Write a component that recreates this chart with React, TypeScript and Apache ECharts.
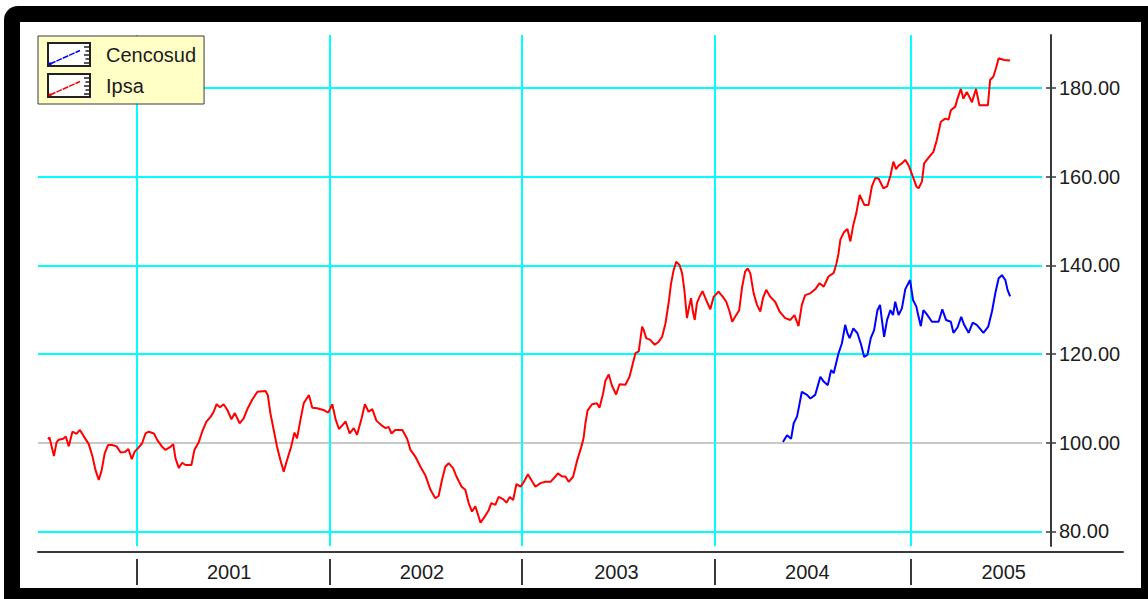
import { useEffect, useRef } from "react";
import * as echarts from "echarts";

// ---- data (x = weeks counted from the first week of 2001) ----
const YEARS = ["2001", "2002", "2003", "2004", "2005"];
const YEAR_START_WEEKS = [0, 52, 104, 156, 209];
const YEAR_LABEL_WEEKS = [25, 77, 129.5, 181, 234];
const Y_TICKS = [80, 100, 120, 140, 160, 180];
const Y_BASE = 100;

const CENCOSUD: [number, number][] = [
  [174.4, 100.2], [175.5, 101.7], [176.6, 100.9], [177.3, 104.4], [178.2, 105.9], [178.9, 108.9],
  [179.5, 111.5], [180.9, 110.8], [181.8, 110.0], [183.1, 110.8], [184.5, 114.9], [185.4, 113.8],
  [186.5, 113.0], [187.4, 116.4], [188.1, 115.7], [189.4, 120.2], [190.3, 122.4], [191.2, 126.6],
  [191.8, 124.7], [192.4, 123.6], [193.4, 125.8], [194.5, 124.7], [195.5, 122.1], [196.3, 119.4],
  [197.2, 119.8], [198.1, 123.6], [199.0, 125.4], [199.9, 129.9], [200.6, 131.1], [201.1, 127.7],
  [201.7, 123.9], [202.5, 127.7], [203.4, 129.9], [204.1, 128.8], [204.7, 131.8], [205.6, 128.8],
  [206.5, 130.3], [207.4, 134.6], [208.0, 135.6], [208.7, 136.7], [209.5, 132.2], [210.4, 130.7],
  [211.0, 128.4], [211.6, 126.3], [212.3, 129.9], [213.2, 129.0], [214.6, 127.3], [216.4, 127.3],
  [217.4, 130.1], [218.4, 127.7], [219.7, 127.3], [220.4, 124.8], [221.5, 126.0], [222.5, 128.4],
  [223.3, 126.6], [224.5, 124.8], [225.6, 127.1], [226.7, 126.6], [228.5, 124.8], [229.8, 126.2],
  [230.8, 129.6], [231.7, 133.7], [232.6, 137.1], [233.5, 137.8], [234.4, 136.7], [235.0, 134.5],
  [235.7, 133.0],
];

const IPSA: [number, number][] = [
  [-23.9, 100.8], [-23.5, 101.2], [-22.3, 97.0], [-21.6, 100.1], [-21.0, 100.7], [-19.8, 100.9],
  [-19.1, 101.4], [-18.3, 99.2], [-17.3, 102.5], [-16.2, 102.0], [-15.3, 102.9], [-14.2, 101.4],
  [-12.9, 99.7], [-11.9, 96.9], [-11.1, 93.9], [-10.2, 91.6], [-9.4, 93.9], [-8.6, 97.6],
  [-7.7, 99.5], [-6.6, 99.5], [-5.4, 99.2], [-4.3, 97.8], [-3.2, 97.9], [-2.2, 98.6],
  [-1.3, 96.3], [-0.5, 98.0], [0.4, 98.8], [1.5, 99.9], [2.4, 102.1], [3.3, 102.5],
  [4.7, 102.1], [5.6, 100.6], [6.9, 99.1], [7.8, 98.4], [9.0, 99.0], [9.9, 99.7],
  [10.5, 96.5], [11.4, 94.3], [12.3, 95.5], [13.2, 95.0], [14.8, 95.0], [15.6, 98.4],
  [16.8, 100.2], [17.7, 102.5], [18.8, 104.7], [20.0, 105.9], [20.8, 107.0], [21.6, 108.7],
  [22.5, 108.0], [23.5, 108.7], [24.5, 107.4], [25.6, 105.3], [26.5, 106.7], [27.8, 104.4],
  [28.9, 105.5], [30.0, 107.8], [31.2, 109.7], [32.6, 111.5], [34.8, 111.7], [35.4, 110.8],
  [36.1, 106.7], [37.0, 102.9], [37.9, 99.1], [38.8, 96.1], [39.7, 93.5], [40.6, 96.1],
  [41.7, 99.1], [42.6, 102.3], [43.3, 101.0], [44.2, 105.1], [45.1, 108.9], [46.5, 110.8],
  [47.4, 107.9], [48.7, 107.8], [50.4, 107.4], [51.7, 106.8], [52.8, 108.7], [53.7, 105.3],
  [54.6, 103.1], [56.4, 104.8], [57.5, 102.1], [58.6, 103.3], [59.5, 101.8], [60.7, 105.5],
  [61.6, 108.7], [62.6, 107.0], [63.6, 107.6], [64.7, 105.0], [66.3, 103.8], [67.2, 103.3],
  [68.0, 103.6], [68.8, 102.1], [69.8, 102.9], [71.7, 102.9], [73.0, 100.9], [73.9, 98.4],
  [75.2, 96.9], [76.6, 94.6], [77.9, 92.7], [79.3, 89.4], [80.6, 87.5], [81.5, 88.0],
  [82.4, 91.6], [83.3, 94.6], [84.2, 95.4], [85.4, 94.3], [86.3, 92.4], [87.7, 90.1],
  [88.7, 89.4], [89.6, 86.4], [90.5, 84.5], [91.4, 85.7], [92.8, 82.0], [93.9, 83.3],
  [95.0, 84.8], [95.7, 86.4], [96.8, 86.0], [97.7, 87.8], [98.9, 87.3], [99.8, 86.5],
  [100.7, 87.8], [101.6, 87.1], [102.5, 90.7], [103.6, 90.1], [104.5, 91.2], [105.6, 92.9],
  [106.5, 91.6], [107.6, 90.1], [109.0, 90.9], [110.3, 91.2], [111.7, 91.2], [113.0, 92.4],
  [113.7, 93.1], [114.8, 92.4], [115.7, 92.4], [116.6, 91.2], [117.8, 92.4], [118.9, 96.1],
  [119.9, 98.8], [120.6, 101.0], [121.1, 104.4], [121.7, 107.3], [122.9, 108.7], [124.2, 108.9],
  [124.9, 107.9], [125.9, 111.2], [126.5, 114.0], [127.4, 115.4], [128.3, 112.8], [129.4, 110.9],
  [130.3, 113.2], [131.9, 113.1], [133.0, 114.9], [133.9, 117.9], [134.6, 120.2], [135.5, 120.6],
  [136.4, 126.2], [136.8, 125.5], [137.5, 123.6], [138.6, 123.2], [139.8, 122.1], [140.9, 122.8],
  [141.8, 123.9], [142.7, 126.9], [143.6, 131.8], [144.2, 135.9], [144.9, 138.9], [145.6, 140.8],
  [146.5, 140.1], [147.2, 138.2], [147.8, 134.5], [148.5, 128.1], [149.1, 130.7], [149.6, 132.6],
  [150.1, 129.6], [150.6, 127.7], [151.2, 131.5], [151.9, 132.9], [152.7, 134.2], [153.9, 131.8],
  [154.8, 130.1], [155.7, 132.9], [157.0, 134.1], [158.2, 132.9], [159.1, 131.8], [160.0, 129.6],
  [160.7, 127.3], [161.5, 128.4], [162.6, 129.9], [163.4, 135.2], [164.2, 138.6], [164.9, 139.3],
  [165.6, 138.2], [166.5, 133.7], [167.4, 131.1], [168.3, 129.6], [169.0, 132.6], [169.9, 134.5],
  [171.0, 132.9], [172.3, 131.8], [173.5, 129.6], [175.0, 128.1], [176.4, 127.7], [177.5, 128.8],
  [178.6, 126.3], [179.5, 131.1], [180.4, 133.3], [181.8, 133.7], [183.1, 134.6], [184.3, 136.0],
  [185.4, 135.2], [186.7, 137.5], [188.1, 138.3], [188.8, 140.3], [189.4, 142.7], [189.9, 145.8],
  [190.8, 147.4], [191.8, 148.2], [192.6, 145.4], [193.3, 148.8], [194.2, 151.8], [195.1, 155.9],
  [196.4, 153.6], [197.5, 153.6], [198.4, 157.8], [199.3, 159.7], [200.2, 159.6], [201.5, 157.4],
  [202.5, 157.8], [203.4, 160.2], [204.2, 163.4], [204.9, 161.7], [205.6, 162.5], [206.5, 163.0],
  [207.4, 163.8], [208.3, 162.6], [209.2, 160.6], [210.4, 157.8], [211.0, 157.4], [211.9, 158.9],
  [212.5, 163.0], [213.7, 164.3], [215.0, 165.6], [215.9, 168.2], [217.0, 172.4], [218.2, 173.1],
  [219.1, 172.9], [219.7, 175.0], [220.9, 175.8], [221.5, 177.6], [222.4, 179.8], [223.1, 177.6],
  [224.0, 179.1], [224.7, 178.0], [225.4, 176.8], [226.5, 179.8], [227.4, 176.1], [228.5, 176.1],
  [229.7, 176.1], [230.3, 181.8], [231.2, 182.6], [231.9, 184.5], [232.6, 186.7], [234.1, 186.3],
  [235.7, 186.2],
];

// ---- axis extents ----
const X_MIN = -26.6;
const X_PLOT_MAX = 244.3;
const X_BAND_MAX = 266.2;
const Y_MIN = 76.73;
const Y_MAX = 191.95;

const FONT = '"Liberation Sans", Arial, Helvetica, sans-serif';
const TEXT_COLOR = "#1c1c1c";
const AXIS_COLOR = "#3a3a3a";
const CYAN = "#00FFFF";

function legendIcon(color: string): string {
  const svg =
    `<svg xmlns="http://www.w3.org/2000/svg" width="54" height="25" viewBox="0 0 54 25">` +
    `<rect x="1" y="1" width="42" height="23" fill="#ffffff" stroke="#222222" stroke-width="2"/>` +
    `<line x1="3" y1="22" x2="33" y2="8.5" stroke="${color}" stroke-width="1.5" stroke-dasharray="6 1"/>` +
    `<rect x="2" y="20.5" width="2.5" height="2.5" fill="${color}"/>` +
    `<path d="M37 5H42M38.5 9H42M37 13H42M38.5 17H42M37 21H42" stroke="#222222" stroke-width="1.3" fill="none"/>` +
    `</svg>`;
  return "image://data:image/svg+xml;charset=utf-8," + encodeURIComponent(svg);
}

export default function App() {
  const ref = useRef<HTMLDivElement>(null);

  useEffect(() => {
    if (!ref.current) return;
    const chart = echarts.init(ref.current, undefined, { renderer: "svg" });

    const option: any = {
      animation: false,
      backgroundColor: "transparent",
      textStyle: { fontFamily: FONT },
      grid: [
        { left: 38, top: 35, width: 1004, height: 511 },
        { left: 38, top: 552, width: 1085, height: 33 },
      ],
      legend: {
        left: 38,
        top: 36,
        orient: "vertical",
        itemWidth: 54,
        itemHeight: 25,
        itemGap: 6,
        padding: [6, 8, 6, 9],
        backgroundColor: "#FFFFC6",
        borderColor: AXIS_COLOR,
        borderWidth: 1,
        selectedMode: false,
        textStyle: { fontSize: 20, color: TEXT_COLOR, fontFamily: FONT },
        data: [
          { name: "Cencosud", icon: legendIcon("#0000FF") },
          { name: "Ipsa", icon: legendIcon("#FF0000") },
        ],
      },
      xAxis: [
        {
          gridIndex: 0,
          type: "value",
          min: X_MIN,
          max: X_PLOT_MAX,
          axisLine: { show: false, onZero: false },
          axisTick: { show: false, customValues: YEAR_START_WEEKS },
          axisLabel: { show: false },
          splitLine: { show: true, lineStyle: { color: CYAN, width: 2 } },
        },
        {
          gridIndex: 1,
          type: "value",
          position: "top",
          min: X_MIN,
          max: X_BAND_MAX,
          axisLine: { show: true, onZero: false, lineStyle: { color: AXIS_COLOR, width: 2 } },
          axisTick: { show: false },
          axisLabel: {
            show: true,
            inside: true,
            margin: 20,
            verticalAlign: "middle",
            customValues: YEAR_LABEL_WEEKS,
            formatter: (v: number) => {
              const i = YEAR_LABEL_WEEKS.indexOf(v);
              return i >= 0 ? YEARS[i] : "";
            },
            fontSize: 20,
            color: TEXT_COLOR,
            fontFamily: FONT,
          },
          splitLine: { show: false },
        },
        {
          gridIndex: 1,
          type: "value",
          position: "bottom",
          min: X_MIN,
          max: X_BAND_MAX,
          axisLine: { show: false, onZero: false },
          axisTick: {
            show: true,
            inside: true,
            length: 26,
            customValues: YEAR_START_WEEKS,
            lineStyle: { color: AXIS_COLOR, width: 2 },
          },
          axisLabel: { show: false },
          splitLine: { show: false },
        },
      ],
      yAxis: [
        {
          gridIndex: 0,
          type: "value",
          position: "right",
          offset: 9,
          min: Y_MIN,
          max: Y_MAX,
          axisLine: { show: true, onZero: false, lineStyle: { color: AXIS_COLOR, width: 2 } },
          axisTick: { show: true, length: 5, customValues: Y_TICKS, lineStyle: { color: AXIS_COLOR, width: 1.5 } },
          axisLabel: {
            show: true,
            customValues: Y_TICKS,
            formatter: (v: number) => v.toFixed(2),
            fontSize: 20,
            color: TEXT_COLOR,
            fontFamily: FONT,
            margin: 8,
          },
          splitLine: { show: false },
        },
        {
          gridIndex: 0,
          type: "value",
          position: "right",
          offset: 9,
          min: Y_MIN,
          max: Y_MAX,
          axisLine: { show: false, onZero: false },
          axisTick: { show: true, inside: true, length: 5, customValues: Y_TICKS, lineStyle: { color: AXIS_COLOR, width: 1.5 } },
          axisLabel: { show: false },
          splitLine: { show: false },
        },
        {
          gridIndex: 0,
          type: "value",
          position: "left",
          min: Y_MIN,
          max: Y_MAX,
          axisLine: { show: false, onZero: false },
          axisTick: { show: false, customValues: [Y_BASE] },
          axisLabel: { show: false },
          splitLine: { show: true, lineStyle: { color: "#C8C8C8", width: 2 } },
        },
        {
          gridIndex: 0,
          type: "value",
          position: "left",
          min: Y_MIN,
          max: Y_MAX,
          axisLine: { show: false, onZero: false },
          axisTick: { show: false, customValues: Y_TICKS.filter((v) => v !== Y_BASE) },
          axisLabel: { show: false },
          splitLine: { show: true, lineStyle: { color: CYAN, width: 2 } },
        },
        {
          gridIndex: 1,
          type: "value",
          min: 0,
          max: 1,
          show: false,
          axisLine: { show: false, onZero: false },
        },
      ],
      series: [
        {
          name: "Cencosud",
          type: "line",
          xAxisIndex: 0,
          yAxisIndex: 0,
          data: CENCOSUD,
          showSymbol: false,
          symbol: "none",
          silent: true,
          z: 5,
          lineStyle: { color: "#0000FF", width: 2 },
          itemStyle: { color: "#0000FF" },
        },
        {
          name: "Ipsa",
          type: "line",
          xAxisIndex: 0,
          yAxisIndex: 0,
          data: IPSA,
          showSymbol: false,
          symbol: "none",
          silent: true,
          z: 5,
          lineStyle: { color: "#FF0000", width: 2 },
          itemStyle: { color: "#FF0000" },
        },
      ],
    };

    chart.setOption(option);
    return () => chart.dispose();
  }, []);

  return (
    <div
      style={{
        position: "fixed",
        left: 0,
        top: 0,
        width: 1148,
        height: 599,
        overflow: "hidden",
        background: "#ffffff",
      }}
    >
      <div
        style={{
          position: "absolute",
          left: 4,
          top: 6,
          width: 1170,
          height: 620,
          borderRadius: 14,
          background: "#000000",
        }}
      />
      <div
        style={{
          position: "absolute",
          left: 20,
          top: 22,
          width: 1121,
          height: 566,
          background: "#ffffff",
        }}
      />
      <div ref={ref} style={{ position: "absolute", left: 0, top: 0, width: 1148, height: 599 }} />
    </div>
  );
}
